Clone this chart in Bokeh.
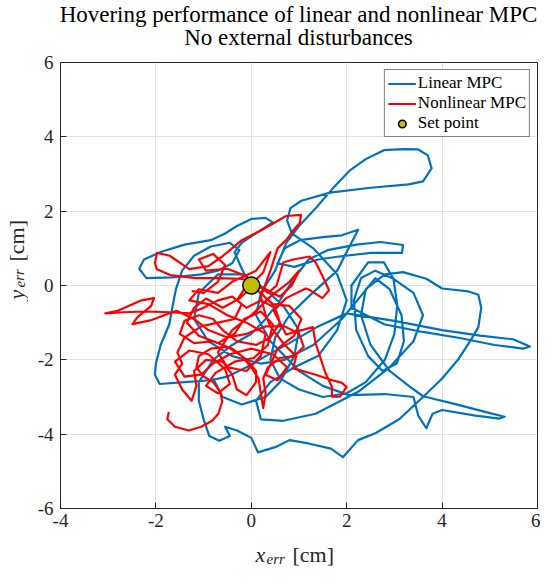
from bokeh.plotting import figure
from bokeh.models import Label, Legend, LegendItem, FixedTicker, Range1d
from bokeh.layouts import column, row
from bokeh.embed import file_html
from bokeh.resources import INLINE

# ---------------- data ----------------
TITLE_1 = "Hovering performance of linear and nonlinear MPC"
TITLE_2 = "No external disturbances"
SERIES_NAMES = ["Linear MPC", "Nonlinear MPC", "Set point"]

X_TICKS = [-4, -2, 0, 2, 4, 6]
X_TICK_LABELS = ["-4", "-2", "0", "2", "4", "6"]
Y_TICKS = [-6, -4, -2, 0, 2, 4, 6]
Y_TICK_LABELS = ["-6", "-4", "-2", "0", "2", "4", "6"]

LINEAR_X = [0.00, -0.20, -0.35, -0.20, 0.15, 0.45, 0.30, 0.00, -0.30, -0.55,
            -0.85, -1.40, -1.90, -2.25, -2.35, -2.20, -1.65, -1.05, -0.70, -0.40,
            -0.25, -0.45, -0.85, -1.20, -1.45, -1.58, -1.65, -1.72, -1.90, -2.00,
            -2.02, -1.92, -1.40, -0.85, -0.50, -0.10, 0.30, 0.80, 1.40, 2.00,
            3.00, 4.00, 4.80, 5.50, 5.84, 5.70, 5.10, 4.40, 3.60, 2.80,
            2.10, 2.10, 2.45, 2.78, 2.98, 3.06, 3.00, 2.80, 2.40, 2.00,
            1.50, 1.00, 0.60, 0.40, 0.50, 0.80, 1.20, 1.80, 2.24, 1.90,
            1.50, 1.02, 0.70, 0.55, 0.90, 1.40, 1.84, 2.51, 3.16, 3.18,
            2.71, 2.20, 1.60, 1.20, 0.90, 0.60, 0.30, 0.00, -0.40, -0.80,
            -1.10, -1.10, -1.00, -0.88, -0.67, -0.45, -0.55, -0.30, 0.00, 0.14,
            0.50, 0.80, 1.20, 1.67, 1.92, 2.24, 2.61, 3.10, 3.60, 4.00,
            4.35, 4.61, 4.76, 4.82, 4.76, 4.55, 4.00, 3.67, 3.18, 2.80,
            2.40, 2.30, 2.50, 2.90, 3.30, 3.60, 4.30, 4.90, 5.31, 5.20,
            4.70, 4.00, 3.80, 3.67, 3.50, 3.40, 2.80, 2.04, 1.50, 1.00,
            0.40, 0.10, 0.20, 0.50, 0.73, 1.00, 1.35, 1.70, 2.06, 2.40,
            2.78, 3.20, 3.50, 3.70, 3.78, 3.60, 3.30, 2.50, 1.65, 1.05,
            0.82, 0.75, 0.85, 1.30, 1.80, 2.00, 1.80, 1.40, 0.90, 0.40,
            0.10, 0.20, 0.67, 1.35, 2.24, 2.90, 3.40, 3.60, 3.40, 2.98,
            2.60, 2.30, 2.15, 2.20, 2.45, 2.75, 3.05, 3.20, 3.15, 2.90,
            2.60, 2.35, 1.90, 1.30, 0.70, 0.20, -0.40, -0.90, -1.20, -1.10,
            -0.70, -0.20, 0.30, 0.70, 1.00, 0.90, 0.60, 0.30, -0.20, -0.60,
            -0.80]
LINEAR_Y = [-0.05, 0.45, 0.90, 1.15, 1.45, 1.70, 1.82, 1.79, 1.60, 1.40,
            1.22, 1.10, 0.90, 0.70, 0.45, 0.20, 0.22, 0.30, 0.40, 0.60,
            0.95, 1.15, 1.05, 0.80, 0.40, -0.10, -0.55, -1.05, -1.60, -2.10,
            -2.40, -2.65, -2.60, -2.55, -2.45, -2.20, -1.90, -1.55, -1.10, -0.75,
            -0.95, -1.20, -1.35, -1.45, -1.64, -1.70, -1.60, -1.42, -1.25, -1.05,
            -0.60, 0.00, 0.62, 0.62, 0.18, -0.52, -1.30, -2.00, -2.60, -2.90,
            -3.00, -2.80, -2.50, -2.00, -1.40, -0.80, -0.30, 0.40, 1.50, 1.35,
            1.30, 1.22, 1.00, 0.60, 0.50, 0.70, 0.78, 0.88, 0.88, 1.09,
            1.17, 1.10, 0.95, 0.70, 0.20, -0.40, -0.90, -1.30, -1.60, -2.00,
            -2.60, -3.10, -3.60, -4.05, -4.18, -4.05, -3.80, -3.90, -4.10, -4.49,
            -4.35, -4.16, -4.25, -4.39, -4.62, -4.16, -3.97, -3.60, -3.00, -2.50,
            -1.97, -1.45, -1.12, -0.60, -0.25, -0.16, -0.08, 0.18, 0.36, 0.30,
            -0.10, -0.80, -1.60, -2.30, -2.70, -2.98, -3.20, -3.40, -3.53, -3.58,
            -3.50, -3.35, -3.45, -3.84, -3.50, -3.00, -2.92, -2.95, -2.70, -2.30,
            -1.50, -0.80, -0.20, 0.40, 1.14, 1.60, 2.08, 2.60, 3.09, 3.40,
            3.64, 3.67, 3.66, 3.50, 3.15, 2.80, 2.72, 2.63, 2.50, 2.28,
            2.08, 1.75, 1.40, 1.00, 0.30, -0.40, -1.20, -1.90, -2.20, -2.60,
            -3.10, -3.60, -3.64, -3.45, -2.86, -2.20, -1.50, -0.80, -0.20, 0.18,
            0.40, 0.20, -0.40, -1.20, -1.90, -2.30, -2.10, -1.50, -0.80, -0.10,
            0.20, -0.20, -0.90, -1.60, -2.00, -2.10, -1.90, -1.50, -0.90, -0.20,
            0.30, 0.30, -0.10, -0.60, -1.20, -1.90, -2.60, -3.00, -3.20, -3.00,
            -2.50]

NONLINEAR_X = [-1.73, -1.76, -1.60, -1.31, -1.05, -0.82, -0.69, -0.61, -0.65, -0.80,
               -1.00, -1.15, -1.10, -0.85, -0.50, -0.20, 0.00, 0.15, 0.20, 0.25,
               0.30, 0.25, 0.35, 0.60, 0.90, 1.10, 1.00, 0.70, 0.30, -0.10,
               -0.50, -0.90, -1.20, -1.57, -2.12, -2.49, -2.39, -2.10, -2.04, -2.30,
               -2.80, -3.06, -2.70, -2.20, -1.70, -1.30, -1.00, -0.70, -0.40, -0.20,
               -0.35, -0.70, -1.05, -1.40, -1.55, -1.45, -1.60, -1.45, -1.25, -1.15,
               -1.20, -0.95, -0.60, -0.40, -0.30, -0.10, 0.10, 0.10, -0.10, -0.40,
               -0.80, -1.20, -1.50, -1.40, -1.10, -0.80, -0.60, -0.30, 0.10, 0.40,
               0.60, 0.50, 0.20, -0.10, -0.30, -0.15, 0.10, 0.35, 0.53, 0.67,
               0.88, 1.22, 1.35, 1.49, 1.63, 1.49, 1.24, 1.14, 0.73, 0.47,
               0.73, 1.29, 1.35, 1.55, 1.69, 1.69, 1.86, 2.00, 1.90, 1.70,
               1.35, 0.88, 0.94, 0.70, 0.40, 0.30, 0.20, 0.40, 0.55, 0.73,
               0.88, 1.02, 1.04, 0.73, 0.20, -0.20, -0.61, -0.90, -1.30, -1.71,
               -1.98, -2.02, -1.98, -1.70, -1.16, -0.70, -0.20, 0.05, 0.25, 0.40,
               0.10, -0.40, -0.70, -1.10, -1.30, -0.90, -0.50, -0.10, 0.30, 0.20,
               -0.10, -0.50, -0.70, -0.40, 0.00, 0.40, 0.80, 1.00, 0.85, 0.60,
               0.30, 0.05, -0.25, -0.60, -0.95, -1.20, -1.35, -1.10, -0.70, -0.35,
               -0.15, 0.20, 0.45, 0.35, 0.05, -0.35, -0.75, -0.95, -0.70, -0.45,
               -0.55, -0.90, -1.30, -1.60, -1.40, -1.05, -0.80, -0.45, 0.00, 0.45,
               0.75, 0.55, 0.30, 0.55, 0.90, 1.05, 0.80, 0.45, 0.15, -0.10,
               -0.50, -0.95, -1.10, -0.80, -0.55, -0.70, -1.00, -1.25]
NONLINEAR_Y = [-3.40, -3.60, -3.80, -3.90, -3.80, -3.64, -3.45, -3.12, -2.86, -2.60,
               -2.45, -2.20, -1.90, -1.70, -1.65, -1.90, -2.20, -2.50, -2.90, -3.30,
               -2.90, -2.50, -2.20, -1.95, -1.90, -1.65, -1.30, -1.10, -1.10, -1.30,
               -1.40, -1.20, -0.90, -0.68, -0.94, -1.04, -0.86, -0.55, -0.34, -0.40,
               -0.68, -0.75, -0.72, -0.70, -0.72, -0.75, -0.60, -0.40, -0.30, -0.50,
               -0.90, -1.00, -1.10, -1.40, -1.80, -2.10, -2.40, -2.80, -3.10, -2.70,
               -2.30, -2.00, -2.05, -2.40, -2.80, -2.95, -2.60, -2.30, -2.00, -1.70,
               -1.50, -1.55, -1.30, -0.95, -0.80, -0.90, -1.20, -1.50, -1.60, -1.40,
               -1.00, -0.60, -0.40, -0.60, -0.40, -0.10, 0.05, -0.20, 0.00, 0.62,
               0.70, 0.78, 0.62, 0.26, -0.13, -0.34, -0.13, -0.08, -0.34, -0.68,
               -1.32, -1.12, -1.56, -2.34, -2.73, -2.99, -2.99, -2.73, -2.62, -2.55,
               -2.40, -2.23, -1.90, -1.60, -1.10, -0.80, -0.30, 0.40, 1.00, 1.22,
               1.48, 1.69, 1.90, 1.87, 1.48, 1.22, 0.78, 0.52, 0.44, 0.80,
               0.88, 0.60, 0.44, 0.28, 0.20, 0.20, 0.18, 0.10, 0.35, 0.90,
               0.40, 0.10, -0.20, -0.10, -0.40, -0.50, -0.80, -1.00, -1.30, -1.90,
               -2.30, -2.20, -1.80, -1.20, -0.80, -0.30, 0.10, 0.40, 0.00, -0.30,
               -0.10, 0.00, -0.35, -0.60, -0.35, -0.60, -1.00, -1.35, -1.55, -1.30,
               -0.90, -0.70, -1.05, -1.60, -1.95, -2.05, -2.35, -2.70, -2.90, -2.65,
               -2.25, -1.85, -1.75, -2.05, -2.45, -2.40, -2.10, -1.85, -1.70, -1.85,
               -2.20, -2.55, -2.40, -1.70, -1.35, -0.90, -0.55, -0.50, -0.15, 0.25,
               0.45, 0.40, 0.70, 0.85, 0.55, 0.10, -0.20, -0.15]

SETPOINT_X = [0.0]
SETPOINT_Y = [0.0]

# ---------------- style ----------------
SERIF = "Liberation Serif"
DARK = "#262626"
BLUE = "#0072bd"
RED = "#ff0000"
OLIVE = "#bfbf00"

W, H = 540, 568
TITLE_H = 50
XLAB_H = 32
YLAB_W = 28
MAIN_H = H - TITLE_H - XLAB_H


def blank(width, height):
    f = figure(width=width, height=height, x_range=Range1d(0, 1), y_range=Range1d(0, 1),
               output_backend="svg", toolbar_location=None, min_border=0,
               background_fill_color="white", border_fill_color="white")
    f.axis.visible = False
    f.grid.visible = False
    f.outline_line_color = None
    return f


# ---- main plot ----
p = figure(width=W - YLAB_W, height=MAIN_H, x_range=Range1d(-4, 6), y_range=Range1d(-6, 6),
           output_backend="svg", toolbar_location=None,
           min_border_left=32, min_border_right=3, min_border_top=12,
           min_border_bottom=28, background_fill_color="white",
           border_fill_color="white")
p.outline_line_color = DARK
p.outline_line_width = 1

p.xaxis.ticker = FixedTicker(ticks=X_TICKS)
p.yaxis.ticker = FixedTicker(ticks=Y_TICKS)
p.xaxis.major_label_overrides = dict(zip(X_TICKS, X_TICK_LABELS))
p.yaxis.major_label_overrides = dict(zip(Y_TICKS, Y_TICK_LABELS))
for ax in (p.xaxis[0], p.yaxis[0]):
    ax.major_label_text_font = SERIF
    ax.major_label_text_font_size = "19px"
    ax.major_label_text_color = DARK
    ax.major_tick_in = 6
    ax.major_tick_out = 0
    ax.minor_tick_line_color = None
    ax.axis_line_color = DARK
    ax.major_tick_line_color = DARK
p.xaxis.major_label_standoff = 5
p.yaxis.major_label_standoff = 7

p.grid.grid_line_color = "#e1e1e1"
p.grid.grid_line_width = 1

r_lin = p.line(LINEAR_X, LINEAR_Y, line_color=BLUE, line_width=2.2, line_join="round")
r_non = p.line(NONLINEAR_X, NONLINEAR_Y, line_color=RED, line_width=2.2, line_join="round")
r_sp = p.scatter(SETPOINT_X, SETPOINT_Y, size=17, marker="circle", fill_color=OLIVE,
                 line_color="black", line_width=1.5)

legend = Legend(items=[LegendItem(label=SERIES_NAMES[0], renderers=[r_lin]),
                       LegendItem(label=SERIES_NAMES[1], renderers=[r_non]),
                       LegendItem(label=SERIES_NAMES[2], renderers=[r_sp])],
                location="top_right", margin=7, padding=3, spacing=0,
                glyph_width=28, glyph_height=19, label_height=19,
                label_standoff=2,
                label_text_font=SERIF, label_text_font_size="17px",
                label_text_color="black",
                border_line_color="black", border_line_width=1,
                background_fill_color="white", background_fill_alpha=1)
p.add_layout(legend)

# ---- title ----
t = blank(W, TITLE_H)
t.add_layout(Label(x=298, y=36, x_units="screen", y_units="screen", text=TITLE_1,
                   text_font=SERIF, text_font_size="23px", text_align="center",
                   text_baseline="alphabetic", text_color="black"))
t.add_layout(Label(x=298, y=13, x_units="screen", y_units="screen", text=TITLE_2,
                   text_font=SERIF, text_font_size="23px", text_align="center",
                   text_baseline="alphabetic", text_color="black"))

# ---- y label: y_err [cm] ----
yl = blank(YLAB_W, MAIN_H)
yl.add_layout(Label(x=16, y=209, x_units="screen", y_units="screen", text="y",
                    angle=1.5708, text_font=SERIF, text_font_style="italic",
                    text_font_size="22px", text_color=DARK, text_baseline="alphabetic"))
yl.add_layout(Label(x=19, y=221, x_units="screen", y_units="screen", text="err",
                    angle=1.5708, text_font=SERIF, text_font_style="italic",
                    text_font_size="15px", text_color=DARK, text_baseline="alphabetic"))
yl.add_layout(Label(x=16, y=247, x_units="screen", y_units="screen", text="[cm]",
                    angle=1.5708, text_font=SERIF, text_font_size="22px",
                    text_color=DARK, text_baseline="alphabetic"))

# ---- x label: x_err [cm] ----
xl = blank(W, XLAB_H)
xl.add_layout(Label(x=255, y=14, x_units="screen", y_units="screen", text="x",
                    text_font=SERIF, text_font_style="italic", text_font_size="22px",
                    text_color=DARK, text_baseline="alphabetic"))
xl.add_layout(Label(x=266, y=10, x_units="screen", y_units="screen", text="err",
                    text_font=SERIF, text_font_style="italic", text_font_size="15px",
                    text_color=DARK, text_baseline="alphabetic"))
xl.add_layout(Label(x=292, y=14, x_units="screen", y_units="screen", text="[cm]",
                    text_font=SERIF, text_font_size="22px",
                    text_color=DARK, text_baseline="alphabetic"))

layout = column(t, row(yl, p), xl)

open("out.html", "w").write(file_html(layout, INLINE))
